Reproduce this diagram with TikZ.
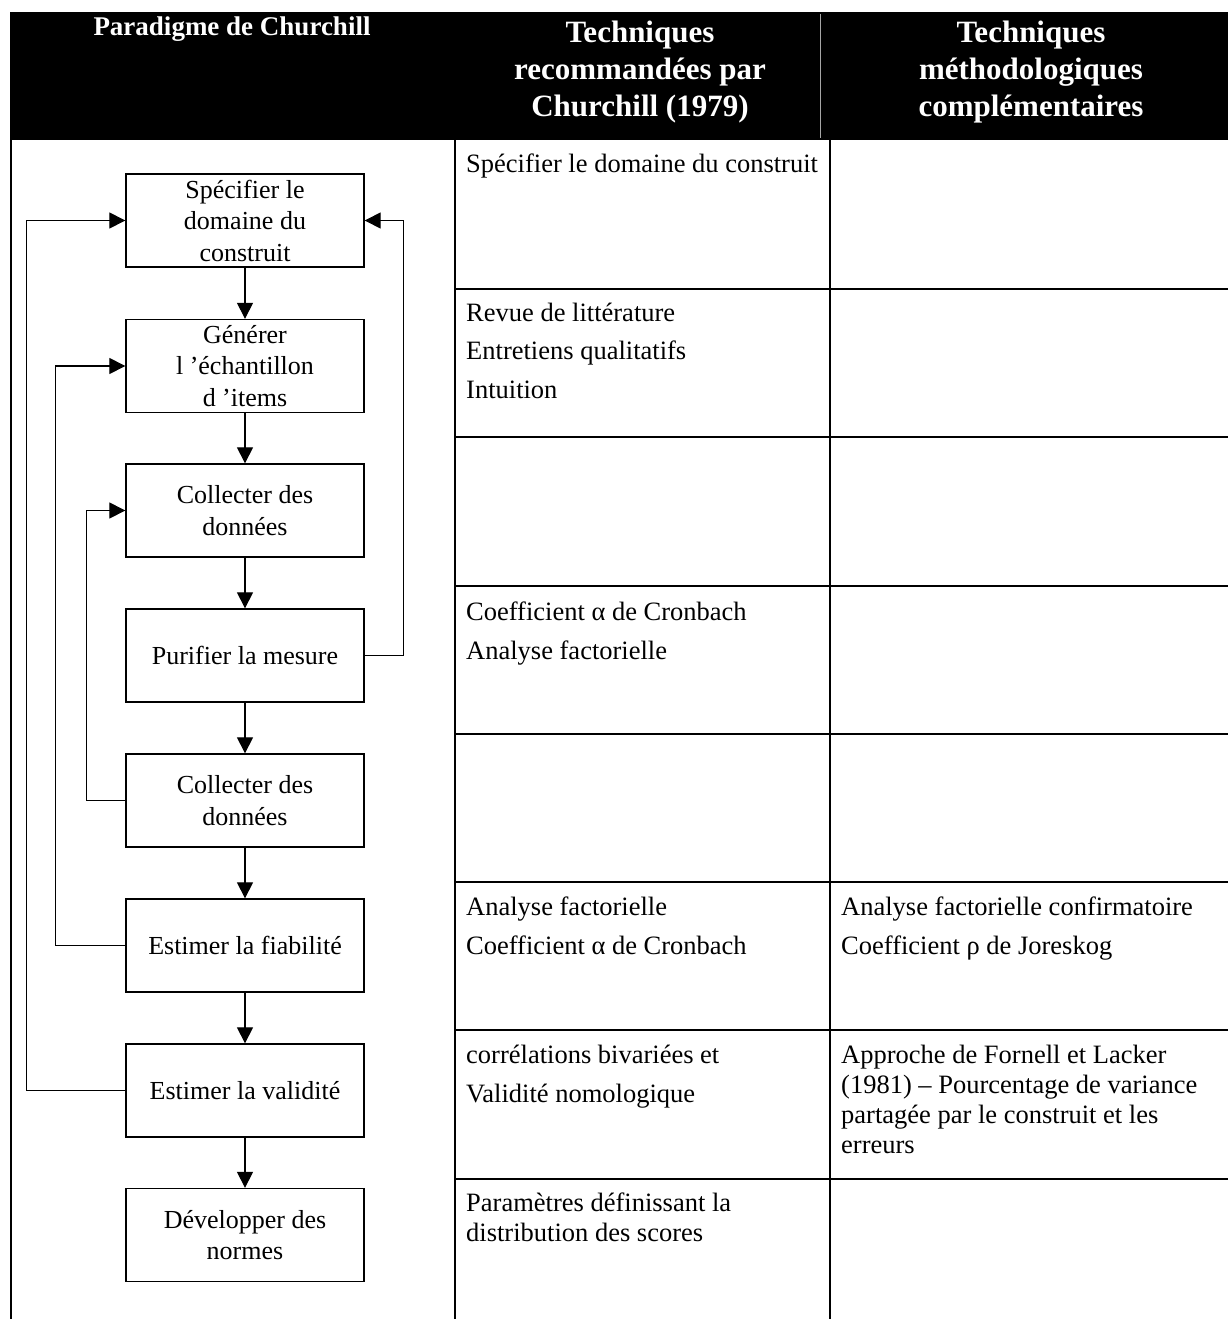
\documentclass[tikz,border=0pt]{standalone}
\usepackage{fontspec}
\setmainfont{Liberation Serif}
\usetikzlibrary{arrows.meta}
\tikzset{
  flowbox/.style={draw, line width=1.3pt, minimum width=238pt, minimum height=93pt, inner sep=0pt, align=center, font=\fontsize{26}{31.5}\selectfont},
  arr/.style={line width=1.1pt, -{Triangle[length=16pt,width=16pt]}},
  fb/.style={line width=1.1pt, -{Triangle[length=16pt,width=16pt]}},
  grid/.style={line width=2pt},
  cell/.style={anchor=base west, inner sep=0pt, font=\fontsize{26.5}{30}\selectfont},
  headA/.style={anchor=base, inner sep=0pt, text=white, font=\fontsize{27}{32}\selectfont\bfseries},
  headB/.style={anchor=base, inner sep=0pt, text=white, font=\fontsize{31}{37}\selectfont\bfseries}
}
\begin{document}
\begin{tikzpicture}[x=1pt,y=-1pt]
\useasboundingbox (0,0) rectangle (1228,1319);
% header
\fill[black] (10,12) rectangle (1228,140);
\draw[gray!70, line width=1pt] (820,14) -- (820,138);
\node[headA] (h1) at (232,36) {Paradigme de Churchill};
\node[headB] (h2a) at (640,43) {Techniques};
\node[headB] (h2b) at (640,80) {recommandées par};
\node[headB] (h2c) at (640,117) {Churchill (1979)};
\node[headB] (h3a) at (1031,43) {Techniques};
\node[headB] (h3b) at (1031,80) {méthodologiques};
\node[headB] (h3c) at (1031,117) {complémentaires};
% table grid
\draw[grid] (11,140) -- (11,1319);
\draw[grid] (455,140) -- (455,1319);
\draw[grid] (830,140) -- (830,1319);
\foreach \yy in {289,437,586,734,882,1030,1179} {
  \draw[grid] (455,\yy) -- (1228,\yy);
}
% column 2 texts
\node[cell] (c21) at (466,172) {Spécifier le domaine du construit};
\node[cell] (c22a) at (466,321) {Revue de littérature};
\node[cell] (c22b) at (466,359.5) {Entretiens qualitatifs};
\node[cell] (c22c) at (466,398) {Intuition};
\node[cell] (c24a) at (466,620) {Coefficient α de Cronbach};
\node[cell] (c24b) at (466,659) {Analyse factorielle};
\node[cell] (c26a) at (466,915) {Analyse factorielle};
\node[cell] (c26b) at (466,954) {Coefficient α de Cronbach};
\node[cell] (c27a) at (466,1063) {corrélations bivariées et};
\node[cell] (c27b) at (466,1102) {Validité nomologique};
\node[cell] (c28a) at (466,1211) {Paramètres définissant la};
\node[cell] (c28b) at (466,1241) {distribution des scores};
% column 3 texts
\node[cell] (c36a) at (841,915) {Analyse factorielle confirmatoire};
\node[cell] (c36b) at (841,954) {Coefficient ρ de Joreskog};
\node[cell] (c37a) at (841,1063) {Approche de Fornell et Lacker};
\node[cell] (c37b) at (841,1093) {(1981) – Pourcentage de variance};
\node[cell] (c37c) at (841,1123) {partagée par le construit et les};
\node[cell] (c37d) at (841,1153) {erreurs};
% flowchart
\node[flowbox] (b1) at (245,220.5) {Spécifier le\\domaine du\\construit};
\node[flowbox] (b2) at (245,366) {Générer\\l ’échantillon\\d ’items};
\node[flowbox] (b3) at (245,510.5) {Collecter des\\données};
\node[flowbox] (b4) at (245,655.5) {Purifier la mesure};
\node[flowbox] (b5) at (245,800.5) {Collecter des\\données};
\node[flowbox] (b6) at (245,945.5) {Estimer la fiabilité};
\node[flowbox] (b7) at (245,1090.5) {Estimer la validité};
\node[flowbox] (b8) at (245,1235) {Développer des\\normes};
\draw[arr] (b1) -- (b2);
\draw[arr] (b2) -- (b3);
\draw[arr] (b3) -- (b4);
\draw[arr] (b4) -- (b5);
\draw[arr] (b5) -- (b6);
\draw[arr] (b6) -- (b7);
\draw[arr] (b7) -- (b8);
% feedback loops
\draw[fb] (b7.west) -- ++(-99,0) |- (b1.west);
\draw[fb] (b6.west) -- ++(-70,0) |- (b2.west);
\draw[fb] (b5.west) -- ++(-39,0) |- (b3.west);
\draw[fb] (b4.east) -- ++(39,0) |- (b1.east);
\end{tikzpicture}
\end{document}
